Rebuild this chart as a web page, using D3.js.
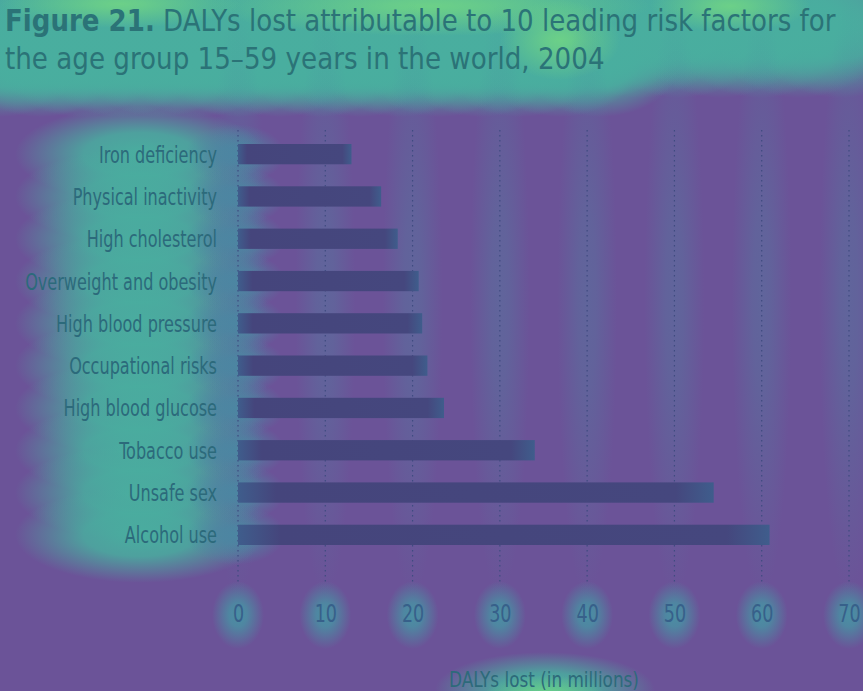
<!DOCTYPE html>
<html><head><meta charset="utf-8">
<script src="https://cdn.jsdelivr.net/npm/d3@7"></script>
<style>html,body{margin:0;padding:0;background:#6b5398;}svg{display:block;}</style>
</head><body>
<script>
const categories = ["Iron deficiency","Physical inactivity","High cholesterol","Overweight and obesity","High blood pressure","Occupational risks","High blood glucose","Tobacco use","Unsafe sex","Alcohol use"];
const values = [13.0, 16.4, 18.3, 20.7, 21.1, 21.7, 23.6, 34.0, 54.5, 60.9];
const ticks = [0,10,20,30,40,50,60,70];
const titleBold = "Figure 21.";
const titleLine1 = " DALYs lost attributable to 10 leading risk factors for";
const titleLine2 = "the age group 15–59 years in the world, 2004";
const axisTitle = "DALYs lost (in millions)";

const W = 863, H = 691;
const font = "'Liberation Sans Narrow','DejaVu Sans Condensed','Roboto Condensed',sans-serif";
const svg = d3.select("body").append("svg").attr("width", W).attr("height", H);
const defs = svg.append("defs");
function radial(id, color, inner){
  const g = defs.append("radialGradient").attr("id", id);
  g.append("stop").attr("offset", 0).attr("stop-color", color).attr("stop-opacity", 1);
  g.append("stop").attr("offset", inner).attr("stop-color", color).attr("stop-opacity", 0.85);
  g.append("stop").attr("offset", 1).attr("stop-color", color).attr("stop-opacity", 0);
}
radial("gTeal", "#49ae9f", 0.45);
radial("gGreen", "#6cd088", 0.2);
radial("gBlue", "#4c86a2", 0.3);
radial("gTick", "#4a8fa3", 0.35);

svg.append("rect").attr("width", W).attr("height", H).attr("fill", "#6b5398");

const x = d3.scaleLinear().domain([0,70]).range([238, 849]);
const y = d3.scaleBand().domain(categories).range([133, 556]).paddingInner(0.52).paddingOuter(0.26);

// saliency-like glow layers
const glow = svg.append("g");
// title glow: a chain of soft ellipses along both lines
const t1c = d3.range(0, 880, 40), t2c = d3.range(0, 640, 40);
glow.append("g").selectAll("ellipse.a").data(t1c).join("ellipse")
  .attr("cx", d => d).attr("cy", 28).attr("rx", 90).attr("ry", 70).attr("fill", "url(#gTeal)");
glow.append("g").selectAll("ellipse.b").data(t2c).join("ellipse")
  .attr("cx", d => d).attr("cy", 62).attr("rx", 80).attr("ry", 55).attr("fill", "url(#gTeal)");
glow.append("ellipse").attr("cx",430).attr("cy",6).attr("rx",220).attr("ry",30).attr("fill","url(#gGreen)");
glow.append("ellipse").attr("cx",560).attr("cy",40).attr("rx",60).attr("ry",40).attr("fill","url(#gGreen)");
glow.append("ellipse").attr("cx",730).attr("cy",6).attr("rx",80).attr("ry",26).attr("fill","url(#gGreen)");
glow.append("ellipse").attr("cx",120).attr("cy",4).attr("rx",120).attr("ry",24).attr("fill","url(#gGreen)");
// label glow per category
glow.append("g").selectAll("ellipse").data(categories).join("ellipse")
  .attr("cx", 140).attr("cy", d => y(d) + y.bandwidth()/2).attr("rx", 125).attr("ry", 48).attr("fill", "url(#gTeal)");
glow.append("g").selectAll("ellipse").data(categories).join("ellipse")
  .attr("cx", 235).attr("cy", d => y(d) + y.bandwidth()/2).attr("rx", 50).attr("ry", 30).attr("fill", "url(#gBlue)");
// tick glow
glow.append("g").selectAll("ellipse").data(ticks).join("ellipse")
  .attr("cx", d => x(d)).attr("cy", 615).attr("rx", 26).attr("ry", 34).attr("fill", "url(#gTick)");
glow.append("g").selectAll("ellipse").data(ticks).join("ellipse")
  .attr("cx", d => x(d)).attr("cy", 300).attr("rx", 30).attr("ry", 300).attr("fill", "url(#gBlue)").attr("opacity", 0.35);
glow.append("ellipse").attr("cx",545).attr("cy",690).attr("rx",110).attr("ry",38).attr("fill","url(#gTeal)");
glow.append("ellipse").attr("cx",545).attr("cy",695).attr("rx",60).attr("ry",20).attr("fill","url(#gGreen)");

// gridlines
svg.append("g").selectAll("line").data(ticks).join("line")
  .attr("x1", d => x(d)).attr("x2", d => x(d)).attr("y1", 130).attr("y2", 582)
  .attr("stroke", "#3f4b80").attr("stroke-width", 1.2).attr("stroke-dasharray", "1.5,3.5");

// bars
const grad = defs.append("linearGradient").attr("id","barg").attr("x1","0").attr("x2","1");
grad.append("stop").attr("offset","0").attr("stop-color","#3f5d8c");
grad.append("stop").attr("offset","0.08").attr("stop-color","#45457c");
grad.append("stop").attr("offset","0.92").attr("stop-color","#45477e");
grad.append("stop").attr("offset","1").attr("stop-color","#3f5d8c");
svg.append("g").selectAll("rect").data(categories).join("rect")
  .attr("x", x(0)).attr("y", d => y(d)).attr("height", y.bandwidth())
  .attr("width", (d,i) => x(values[i]) - x(0)).attr("fill", "url(#barg)");

function squeeze(sel, x0, y0, target){
  const w = sel.node().getComputedTextLength();
  const s = w > 0 ? target / w : 1;
  sel.attr("x", 0).attr("y", 0).attr("transform", `translate(${x0},${y0}) scale(${s},1)`);
}

// category labels
const labels = svg.append("g").selectAll("text").data(categories).join("text")
  .attr("text-anchor", "end").attr("font-family", font).attr("font-size", 23.5)
  .attr("fill", "#2c6a7b").text(d => d);
const ref = labels.filter(d => d === "Overweight and obesity").node().getComputedTextLength();
const ls = 192 / ref;
labels.attr("transform", d => `translate(217,${y(d) + y.bandwidth()/2 + 8.5}) scale(${ls},1)`);

// x axis tick labels
const ax = svg.append("g").attr("transform", "translate(0,604)")
  .call(d3.axisBottom(x).tickValues(ticks).tickSize(0).tickPadding(0).tickFormat(d3.format("d")));
ax.select(".domain").remove();
ax.selectAll(".tick text").attr("font-family", font).attr("font-size", 25).attr("fill", "#37608a")
  .attr("dy","0.72em").attr("transform","scale(0.78,1)");

// axis title
const at = svg.append("text").attr("font-family", font).attr("font-size", 22).attr("fill", "#2d6a7a").text(axisTitle);
squeeze(at, 449, 687, 190);

// title
const t1 = svg.append("text").attr("font-family", font).attr("font-size", 31).attr("fill", "#2b7377");
t1.append("tspan").attr("font-weight","bold").text(titleBold);
t1.append("tspan").text(titleLine1);
squeeze(t1, 5, 31, 831);
const t2 = svg.append("text").attr("font-family", font).attr("font-size", 31).attr("fill", "#2b7377").text(titleLine2);
squeeze(t2, 5, 69, 600);
</script>
</body></html>
